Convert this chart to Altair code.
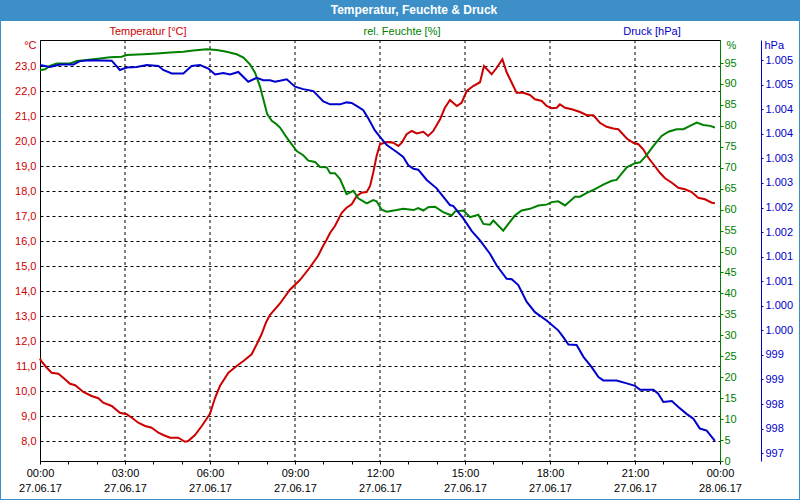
import json
import altair as alt
import pandas as pd

# ---------------- data (hours since 27.06.17 00:00) ----------------
temp_h = [0.00, 0.04, 0.24, 0.41, 0.65, 0.82, 1.06, 1.24, 1.53, 1.82, 2.06, 2.23, 2.53, 2.82,
          3.06, 3.24, 3.47, 3.71, 3.94, 4.18, 4.35, 4.59, 4.88, 5.12, 5.23, 5.47, 5.71, 6.00,
          6.18, 6.35, 6.65, 6.94, 7.18, 7.47, 7.65, 7.82, 7.98, 8.12, 8.47, 8.82, 9.18, 9.53,
          9.81, 9.99, 10.12, 10.24, 10.41, 10.65, 10.82, 11.00, 11.18, 11.35, 11.53, 11.65,
          11.76, 11.88, 12.00, 12.24, 12.47, 12.65, 12.77, 12.94, 13.12, 13.30, 13.53, 13.70,
          13.88, 14.12, 14.29, 14.47, 14.71, 14.88, 15.06, 15.29, 15.53, 15.67, 15.94, 16.12,
          16.32, 16.47, 16.65, 16.82, 17.06, 17.29, 17.47, 17.71, 17.88, 18.06, 18.24, 18.35,
          18.53, 18.77, 19.06, 19.30, 19.53, 19.76, 20.00, 20.23, 20.41, 20.71, 20.94, 21.12,
          21.29, 21.47, 21.65, 21.88, 22.06, 22.30, 22.53, 22.76, 23.00, 23.23, 23.47, 23.71,
          23.82]
temp_v = [11.3, 11.2, 10.93, 10.73, 10.69, 10.53, 10.29, 10.23, 9.96, 9.8, 9.71, 9.53, 9.4, 9.13,
          9.07, 8.93, 8.73, 8.6, 8.53, 8.33, 8.24, 8.13, 8.13, 7.97, 8.0, 8.24, 8.6, 9.09,
          9.73, 10.2, 10.73, 11.0, 11.2, 11.47, 11.87, 12.27, 12.75, 13.05, 13.5, 14.05, 14.45, 14.95,
          15.4, 15.8, 16.06, 16.33, 16.6, 17.13, 17.33, 17.47, 17.8, 17.93, 17.96, 18.2,
          18.73, 19.4, 19.87, 19.96, 19.93, 19.8, 19.93, 20.27, 20.4, 20.3, 20.37, 20.2,
          20.4, 20.87, 21.33, 21.64, 21.4, 21.53, 22.0, 22.2, 22.35, 23.0, 22.67, 22.93,
          23.27, 22.75, 22.33, 21.93, 21.93, 21.84, 21.67, 21.6, 21.4, 21.31, 21.33, 21.47,
          21.33, 21.27, 21.16, 21.03, 21.03, 20.73, 20.57, 20.5, 20.47, 20.1, 19.93, 19.87,
          19.67, 19.33, 19.07, 18.73, 18.51, 18.33, 18.13, 18.07, 17.96, 17.73, 17.67, 17.53,
          17.51]

hum_h = [0.00, 0.18, 0.35, 0.59, 1.06, 1.30, 1.65, 2.12, 2.47, 2.88, 3.06, 3.65, 4.12, 4.59,
         5.06, 5.41, 5.88, 6.24, 6.59, 6.94, 7.18, 7.41, 7.59, 7.76, 7.88, 8.02, 8.18, 8.35,
         8.47, 8.71, 9.06, 9.29, 9.47, 9.71, 9.88, 10.12, 10.24, 10.41, 10.59, 10.82, 11.06,
         11.23, 11.53, 11.76, 11.88, 12.06, 12.24, 12.59, 12.82, 13.18, 13.35, 13.53, 13.70,
         13.94, 14.23, 14.53, 14.65, 14.94, 15.18, 15.47, 15.65, 15.88, 16.00, 16.35, 16.53,
         16.76, 17.00, 17.29, 17.59, 17.88, 18.06, 18.29, 18.53, 18.88, 19.06, 19.30, 19.59,
         19.88, 20.18, 20.35, 20.71, 21.00, 21.18, 21.41, 21.65, 21.94, 22.18, 22.47, 22.71,
         22.94, 23.18, 23.41, 23.65, 23.82]
hum_v = [93.3, 93.5, 94.3, 94.9, 94.9, 95.5, 95.7, 96.1, 96.4, 96.5, 96.9, 97.1, 97.3, 97.5,
         97.7, 98.0, 98.3, 98.1, 97.7, 97.1, 96.3, 94.7, 92.7, 89.5, 86.4, 82.8, 81.2, 80.4,
         79.6, 77.2, 74.0, 73.0, 71.7, 71.4, 70.2, 70.1, 68.7, 68.7, 67.3, 63.7, 64.5,
         62.7, 61.5, 62.3, 62.0, 60.0, 59.5, 59.9, 60.2, 59.9, 60.4, 59.8, 60.6,
         60.7, 59.4, 58.6, 59.6, 59.8, 58.2, 58.8, 56.6, 56.4, 57.4, 55.0, 56.6,
         58.6, 59.8, 60.2, 61.0, 61.2, 61.8, 62.0, 61.0, 63.1, 63.1, 64.0, 64.9,
         66.0, 66.9, 67.1, 70.1, 71.1, 71.3, 73.0, 75.2, 77.6, 78.6, 79.2, 79.2,
         80.0, 80.8, 80.2, 80.0, 79.6]

pres_h = [0.00, 0.35, 0.71, 1.18, 1.41, 1.76, 2.53, 2.82, 3.06, 3.41, 3.77, 4.18, 4.35, 4.65,
          5.06, 5.35, 5.65, 5.94, 6.18, 6.47, 6.71, 7.00, 7.35, 7.65, 7.88, 8.12, 8.29, 8.47,
          8.71, 9.00, 9.29, 9.65, 10.00, 10.24, 10.59, 10.82, 11.00, 11.23, 11.41, 11.59, 11.82,
          12.00, 12.24, 12.59, 12.82, 13.00, 13.18, 13.35, 13.65, 14.00, 14.23, 14.47, 14.59,
          14.94, 15.24, 15.53, 15.88, 16.12, 16.47, 16.65, 16.88, 17.18, 17.47, 17.88, 18.29,
          18.47, 18.65, 18.94, 19.18, 19.47, 19.71, 19.88, 20.35, 20.71, 21.00, 21.18, 21.65,
          21.82, 22.00, 22.30, 22.53, 22.82, 23.06, 23.29, 23.53, 23.82]
pres_v = [1004.90, 1004.86, 1004.91, 1004.91, 1004.98, 1005.00, 1004.99, 1004.80, 1004.85,
          1004.86, 1004.90, 1004.88, 1004.80, 1004.73, 1004.73, 1004.88, 1004.90, 1004.83,
          1004.71, 1004.74, 1004.71, 1004.76, 1004.56, 1004.64, 1004.59, 1004.59, 1004.56,
          1004.58, 1004.61, 1004.46, 1004.41, 1004.37, 1004.16, 1004.10, 1004.10, 1004.14,
          1004.13, 1004.05, 1003.98, 1003.81, 1003.57, 1003.44, 1003.27, 1003.13, 1003.03,
          1002.86, 1002.79, 1002.77, 1002.56, 1002.39, 1002.22, 1002.05, 1002.03, 1001.78,
          1001.52, 1001.33, 1001.06, 1000.82, 1000.55, 1000.54, 1000.42, 1000.08, 999.87,
          999.70, 999.50, 999.36, 999.21, 999.20, 998.96, 998.75, 998.55, 998.48, 998.48,
          998.42, 998.37, 998.29, 998.29, 998.21, 998.04, 998.06, 997.94, 997.80, 997.70,
          997.50, 997.46, 997.25]

tick_times = ["00:00", "03:00", "06:00", "09:00", "12:00", "15:00", "18:00", "21:00", "00:00"]
tick_dates = ["27.06.17"] * 8 + ["28.06.17"]
grid_hours = [3, 6, 9, 12, 15, 18, 21]
temp_ticks = list(range(8, 24))
hum_ticks = list(range(0, 100, 5))
pres_ticks = [997 + 0.5 * i for i in range(17)]

title_text = "Temperatur, Feuchte & Druck"
header_labels = ["Temperatur [°C]", "rel. Feuchte [%]", "Druck [hPa]"]

# ---------------- styling ----------------
RED, GREEN, BLUE = "#cc0000", "#008000", "#0000cc"
FRAME = "#3d8fc7"
FONT = "Liberation Sans"
W, H = 680, 421

temp_df = pd.DataFrame({"h": temp_h, "v": temp_v})
hum_df = pd.DataFrame({"h": hum_h, "v": hum_v})
pres_df = pd.DataFrame({"h": pres_h, "v": pres_v})
grid_df = pd.DataFrame({"h": grid_hours})
one = pd.DataFrame({"a": [0]})

label_expr = ("datum.value % 3 == 0 ? [" + json.dumps(tick_times) + "[datum.value / 3], "
              + json.dumps(tick_dates) + "[datum.value / 3]] : ''")

x_axis = alt.Axis(values=list(range(0, 25)), labelExpr=label_expr, grid=False, tickSize=3,
                  tickColor="black", domainColor="black", labelColor="black", labelFont=FONT,
                  labelFontSize=11, labelLineHeight=15, labelPadding=3, labelFlush=False,
                  labelOverlap=False, title=None)
X = alt.X("h:Q", scale=alt.Scale(domain=[0, 24], nice=False, zero=False), axis=x_axis)

# decorations
title_bar = alt.Chart(one).mark_rect(color=FRAME).encode(
    x=alt.value(-40), x2=alt.value(760), y=alt.value(-40), y2=alt.value(-19))
border_l = alt.Chart(one).mark_rule(color=FRAME, strokeWidth=1).encode(
    x=alt.value(-39.5), y=alt.value(-40), y2=alt.value(460))
border_r = alt.Chart(one).mark_rule(color=FRAME, strokeWidth=1).encode(
    x=alt.value(759.5), y=alt.value(-40), y2=alt.value(460))
border_b = alt.Chart(one).mark_rule(color=FRAME, strokeWidth=1).encode(
    x=alt.value(-40), x2=alt.value(760), y=alt.value(459.5))
title = alt.Chart(one).mark_text(color="white", font=FONT, fontSize=12, fontWeight="bold",
                                 align="center", baseline="middle").encode(
    x=alt.value(374), y=alt.value(-30), text=alt.value(title_text))
hdr_t = alt.Chart(one).mark_text(color=RED, font=FONT, fontSize=11, align="center",
                                 baseline="middle").encode(
    x=alt.value(108), y=alt.value(-8), text=alt.value(header_labels[0]))
hdr_h = alt.Chart(one).mark_text(color=GREEN, font=FONT, fontSize=11, align="center",
                                 baseline="middle").encode(
    x=alt.value(362), y=alt.value(-8), text=alt.value(header_labels[1]))
hdr_p = alt.Chart(one).mark_text(color=BLUE, font=FONT, fontSize=11, align="center",
                                 baseline="middle").encode(
    x=alt.value(612), y=alt.value(-8), text=alt.value(header_labels[2]))

vgrid = alt.Chart(grid_df).mark_rule(color="black", strokeWidth=1, strokeDash=[3, 3]).encode(x=X)

temp_axis = alt.Axis(orient="left", values=temp_ticks,
                     labelExpr="replace(format(datum.value, '.1f'), '.', ',')",
                     labelColor=RED, labelFont=FONT, labelFontSize=11, labelPadding=4,
                     ticks=False, domainColor="black", grid=True, gridColor="black",
                     gridDash=[3, 3], gridWidth=1, gridOpacity=1,
                     title="°C", titleAngle=0, titleColor=RED, titleFont=FONT,
                     titleFontSize=11, titleFontWeight="normal", titleAlign="right",
                     titleBaseline="middle", titleX=-4, titleY=5)
temp_line = alt.Chart(temp_df).mark_line(color=RED, strokeWidth=2).encode(
    x=X, y=alt.Y("v:Q", scale=alt.Scale(domain=[7.2, 24.04], nice=False, zero=False),
                 axis=temp_axis))

hum_axis = alt.Axis(orient="right", values=hum_ticks, format="d", labelColor=GREEN,
                    labelFont=FONT, labelFontSize=11, labelPadding=1, tickSize=3,
                    tickColor=GREEN, domainColor=GREEN, grid=False, zindex=1,
                    title="%", titleAngle=0, titleColor=GREEN, titleFont=FONT,
                    titleFontSize=11, titleFontWeight="normal", titleAlign="left",
                    titleBaseline="middle", titleX=6, titleY=5)
hum_line = alt.Chart(hum_df).mark_line(color=GREEN, strokeWidth=2).encode(
    x=X, y=alt.Y("v:Q", scale=alt.Scale(domain=[0, 100.5], nice=False, zero=False),
                 axis=hum_axis))

pres_axis = alt.Axis(orient="right", offset=41, values=pres_ticks,
                     labelExpr="replace(format(datum.value, ',.0f'), ',', '.')",
                     labelColor=BLUE, labelFont=FONT, labelFontSize=11, labelPadding=2,
                     tickSize=2, tickColor=BLUE, domainColor=BLUE, grid=False, zindex=1,
                     title="hPa", titleAngle=0, titleColor=BLUE, titleFont=FONT,
                     titleFontSize=11, titleFontWeight="normal", titleAlign="left",
                     titleBaseline="middle", titleX=3, titleY=5)
pres_line = alt.Chart(pres_df).mark_line(color=BLUE, strokeWidth=2).encode(
    x=X, y=alt.Y("v:Q", scale=alt.Scale(domain=[996.84, 1005.41], nice=False, zero=False),
                 axis=pres_axis))

chart = alt.layer(
    title_bar, border_l, border_r, border_b, title, hdr_t, hdr_h, hdr_p,
    vgrid, temp_line, hum_line, pres_line
).resolve_scale(y="independent").resolve_axis(y="independent").properties(
    width=W, height=H,
    autosize=alt.AutoSizeParams(type="none"),
    padding={"left": 40, "top": 40, "right": 80, "bottom": 39},
    background="white",
).configure_view(stroke="black", strokeWidth=1)

chart.save("out.html", embed_options={"renderer": "svg", "actions": False})
